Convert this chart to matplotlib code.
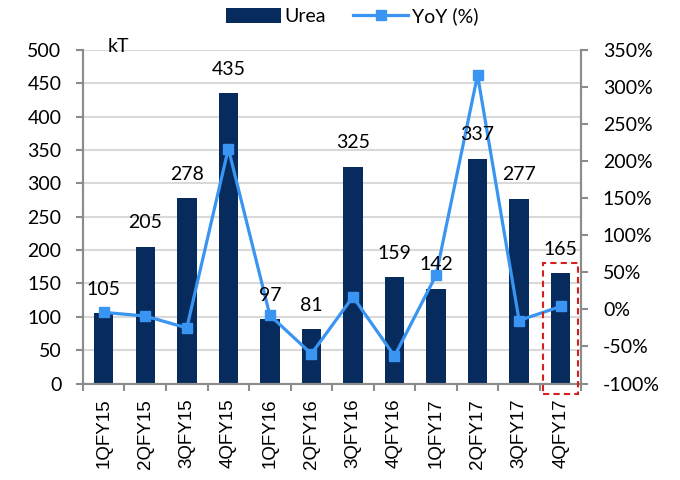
"""
Urea par trimestre (kT) et variation annuelle YoY (%).
Barres sur l'axe gauche, courbe YoY sur l'axe droit.
"""

import matplotlib
matplotlib.use("Agg")
import matplotlib.pyplot as plt
from matplotlib.patches import Rectangle
from matplotlib.ticker import FuncFormatter

# ---------------------------------------------------------------------------
# Données
# ---------------------------------------------------------------------------

TRIMESTRES = ["1QFY15", "2QFY15", "3QFY15", "4QFY15",
              "1QFY16", "2QFY16", "3QFY16", "4QFY16",
              "1QFY17", "2QFY17", "3QFY17", "4QFY17"]
UREA = [105, 205, 278, 435, 97, 81, 325, 159, 142, 337, 277, 165]
YOY = [-4, -9, -25, 217, -8, -60, 17, -63, 46, 316, -15, 4]

COULEUR_BARRE = "#062B5C"
COULEUR_LIGNE = "#3A95F2"
GRIS = "#8C8C8C"

plt.rcParams["font.family"] = ["Lato", "DejaVu Sans"]

fig = plt.figure(figsize=(6.8, 4.8), dpi=100)
ax = fig.add_axes([0.122, 0.201, 0.733, 0.695])
ax2 = ax.twinx()

x = list(range(len(TRIMESTRES)))
ax.bar(x, UREA, width=0.47, color=COULEUR_BARRE, zorder=2, label="Urea")
ax2.plot(x, YOY, color=COULEUR_LIGNE, lw=2.3, marker="s", ms=6.5,
         zorder=3, label="YoY (%)")

# étiquettes de valeurs au-dessus des barres (sur ax2 pour passer devant la courbe)
for xi, v in zip(x, UREA):
    ax2.annotate(str(v), xy=(xi, v), xycoords=ax.transData,
                 xytext=(0, 11), textcoords="offset points",
                 ha="center", va="bottom", fontsize=14, zorder=5)

# axe gauche
ax.set_xlim(-0.5, len(TRIMESTRES) - 0.5)
ax.set_ylim(0, 500)
ax.set_yticks(range(0, 501, 50))
ax.grid(axis="y", color="#D9D9D9", lw=1.5, zorder=0)
ax.set_axisbelow(True)

# axe droit
ax2.set_ylim(-100, 350)
ax2.set_yticks(range(-100, 351, 50))
ax2.yaxis.set_major_formatter(FuncFormatter(lambda v, p: f"{v:.0f}%"))

# abscisses : libellés au centre, graduations entre les catégories
ax.set_xticks(x)
ax.set_xticklabels(TRIMESTRES, rotation=90, fontsize=13.5,
                   family="Liberation Sans")
ax.set_xticks([i - 0.5 for i in range(len(TRIMESTRES) + 1)], minor=True)
ax.tick_params(axis="x", which="major", length=0, pad=11)
ax.tick_params(axis="x", which="minor", length=5, color=GRIS, width=1.5)
ax.tick_params(axis="y", labelsize=14, length=5, color=GRIS, width=1.5, pad=10.5)
ax2.tick_params(axis="y", labelsize=14, length=5, color=GRIS, width=1.5, pad=10.5)

for a in (ax, ax2):
    a.spines["top"].set_visible(False)
    for s in ("left", "right", "bottom"):
        a.spines[s].set_color(GRIS)
        a.spines[s].set_linewidth(1.5)

ax.text(0.05, 1.01, "kT", transform=ax.transAxes, fontsize=14,
        ha="left", va="center")

# cadre rouge en pointillés autour du dernier trimestre
cadre = Rectangle((len(TRIMESTRES) - 1.43, -15), 0.86, 195.5,
                  fill=False, ec="#D62020", ls=(0, (3, 2)), lw=1.5,
                  clip_on=False, zorder=6)
ax2.add_patch(cadre)
cadre.set_transform(ax.transData)

h1, l1 = ax.get_legend_handles_labels()
h2, l2 = ax2.get_legend_handles_labels()
fig.legend(h1 + h2, l1 + l2, loc="center", bbox_to_anchor=(0.518, 0.966),
           ncol=2, frameon=False, fontsize=14, handlelength=2.8,
           handleheight=0.85, columnspacing=1.4, handletextpad=0.2)

fig.savefig("out.png", dpi=100)
